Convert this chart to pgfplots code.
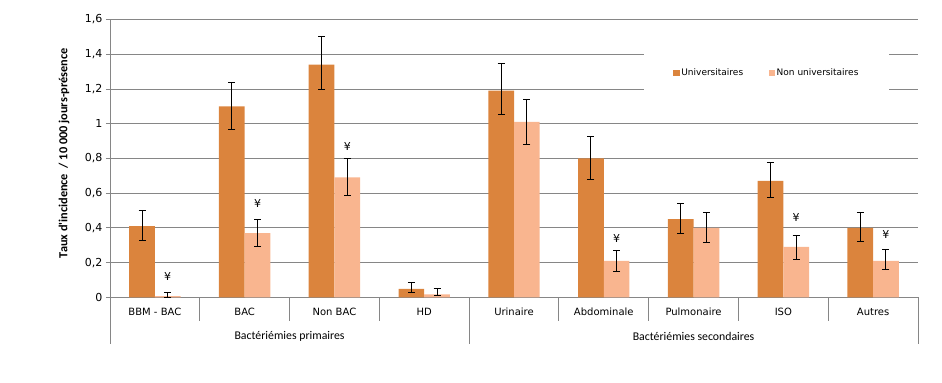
\documentclass[border=0pt]{standalone}
\usepackage{pgfplots}
\pgfplotsset{compat=1.18}
\usepackage{fontspec}
\setmainfont{DejaVu Sans}
\newfontfamily\carlito{Carlito}
\definecolor{univ}{HTML}{DB843D}
\definecolor{nonuniv}{HTML}{F9B58F}
\definecolor{gridc}{HTML}{868686}
\pgfplotsset{myerr/.style={error bars/.cd, y dir=both, y explicit,
    error bar style={black, line width=1bp},
    error mark options={rotate=90, black, mark size=3.5bp, line width=1bp}}}
\begin{document}
\begin{tikzpicture}
\path[use as bounding box] (-110bp,-85.7bp) rectangle (832bp,297.3bp);
\begin{axis}[
  scale only axis, width=808bp, height=277.8bp,
  xmin=-0.5, xmax=8.5, ymin=0, ymax=1.6,
  clip=false,
  ybar=0pt, bar width=25.7bp,
  axis x line*=bottom, axis y line*=left,
  axis line style={gridc, line width=0.8bp, -},
  xtick=\empty,
  ytick={0,0.2,0.4,0.6,0.8,1,1.2,1.4,1.6},
  yticklabels={0,{0,2},{0,4},{0,6},{0,8},1,{1,2},{1,4},{1,6}},
  yticklabel style={font=\fontsize{11bp}{13bp}\selectfont, text=black},
  ytick style={gridc, line width=0.8bp},
  tick align=outside, major tick length=4bp,
  ymajorgrids, grid style={gridc, line width=0.8bp},
  legend style={draw=none, fill=none, at={(rel axis cs:0.697,0.807)}, anchor=west,
    legend columns=2, font=\fontsize{9bp}{11bp}\selectfont, inner sep=0pt,
    nodes={inner sep=1.5bp},
    /tikz/every even column/.append style={column sep=24bp}},
  legend image code/.code={\fill[#1] (0bp,-3.2bp) rectangle (6.5bp,3.2bp);},
]
\fill[white] (rel axis cs:0.661,0.728) rectangle (rel axis cs:0.964,0.89);
\addplot[fill=univ, draw=none, myerr] coordinates {
 (0,0.41) += (0,0.09) -= (0,0.08)
 (1,1.10) += (0,0.14) -= (0,0.135)
 (2,1.34) += (0,0.16) -= (0,0.145)
 (3,0.048) += (0,0.04) -= (0,0.019)
 (4,1.19) += (0,0.155) -= (0,0.14)
 (5,0.80) += (0,0.125) -= (0,0.12)
 (6,0.45) += (0,0.09) -= (0,0.08)
 (7,0.67) += (0,0.108) -= (0,0.098)
 (8,0.40) += (0,0.09) -= (0,0.08)
};
\addlegendentry{Universitaires}
\addplot[fill=nonuniv, draw=none, myerr] coordinates {
 (0,0.007) += (0,0.022) -= (0,0.007)
 (1,0.37) += (0,0.08) -= (0,0.08)
 (2,0.69) += (0,0.11) -= (0,0.105)
 (3,0.017) += (0,0.035) -= (0,0.005)
 (4,1.01) += (0,0.13) -= (0,0.13)
 (5,0.21) += (0,0.062) -= (0,0.06)
 (6,0.40) += (0,0.09) -= (0,0.083)
 (7,0.29) += (0,0.067) -= (0,0.07)
 (8,0.21) += (0,0.068) -= (0,0.048)
};
\addlegendentry{Non universitaires}
% yen marks
\begin{scope}[every node/.style={font=\fontsize{11bp}{13bp}\selectfont, inner sep=0pt}]
\node at (axis cs:0.143,0.117) {¥};
\node at (axis cs:1.143,0.542) {¥};
\node at (axis cs:2.143,0.866) {¥};
\node at (axis cs:5.143,0.338) {¥};
\node at (axis cs:7.143,0.459) {¥};
\node at (axis cs:8.143,0.363) {¥};
\end{scope}
% separators
\draw[gridc, line width=0.8bp] (axis cs:-0.5,0) -- ([yshift=-47bp]axis cs:-0.5,0);
\draw[gridc, line width=0.8bp] (axis cs:0.5,0) -- ([yshift=-23.4bp]axis cs:0.5,0);
\draw[gridc, line width=0.8bp] (axis cs:1.5,0) -- ([yshift=-23.4bp]axis cs:1.5,0);
\draw[gridc, line width=0.8bp] (axis cs:2.5,0) -- ([yshift=-23.4bp]axis cs:2.5,0);
\draw[gridc, line width=0.8bp] (axis cs:3.5,0) -- ([yshift=-47bp]axis cs:3.5,0);
\draw[gridc, line width=0.8bp] (axis cs:4.5,0) -- ([yshift=-23.4bp]axis cs:4.5,0);
\draw[gridc, line width=0.8bp] (axis cs:5.5,0) -- ([yshift=-23.4bp]axis cs:5.5,0);
\draw[gridc, line width=0.8bp] (axis cs:6.5,0) -- ([yshift=-23.4bp]axis cs:6.5,0);
\draw[gridc, line width=0.8bp] (axis cs:7.5,0) -- ([yshift=-23.4bp]axis cs:7.5,0);
\draw[gridc, line width=0.8bp] (axis cs:8.5,0) -- ([yshift=-47bp]axis cs:8.5,0);
% category labels
\begin{scope}[every node/.style={font=\fontsize{10bp}{12bp}\selectfont, yshift=-14.7bp}]
\node at (axis cs:0,0) {BBM - BAC};
\node at (axis cs:1,0) {BAC};
\node at (axis cs:2,0) {Non BAC};
\node at (axis cs:3,0) {HD};
\node at (axis cs:4,0) {Urinaire};
\node at (axis cs:5,0) {Abdominale};
\node at (axis cs:6,0) {Pulmonaire};
\node at (axis cs:7,0) {ISO};
\node at (axis cs:8,0) {Autres};
\end{scope}
\begin{scope}[every node/.style={font=\carlito\fontsize{11.8bp}{13bp}\selectfont, yshift=-38.7bp}]
\node at (axis cs:1.5,0) {Bactériémies primaires};
\node at (axis cs:6,0) {Bactériémies secondaires};
\end{scope}
\node[xshift=-46bp, rotate=90, font=\carlito\bfseries\fontsize{12.3bp}{14bp}\selectfont]
  at (rel axis cs:0,0.519) {Taux d'incidence\ \ / 10 000 jours-présence};
\end{axis}
\end{tikzpicture}
\end{document}
